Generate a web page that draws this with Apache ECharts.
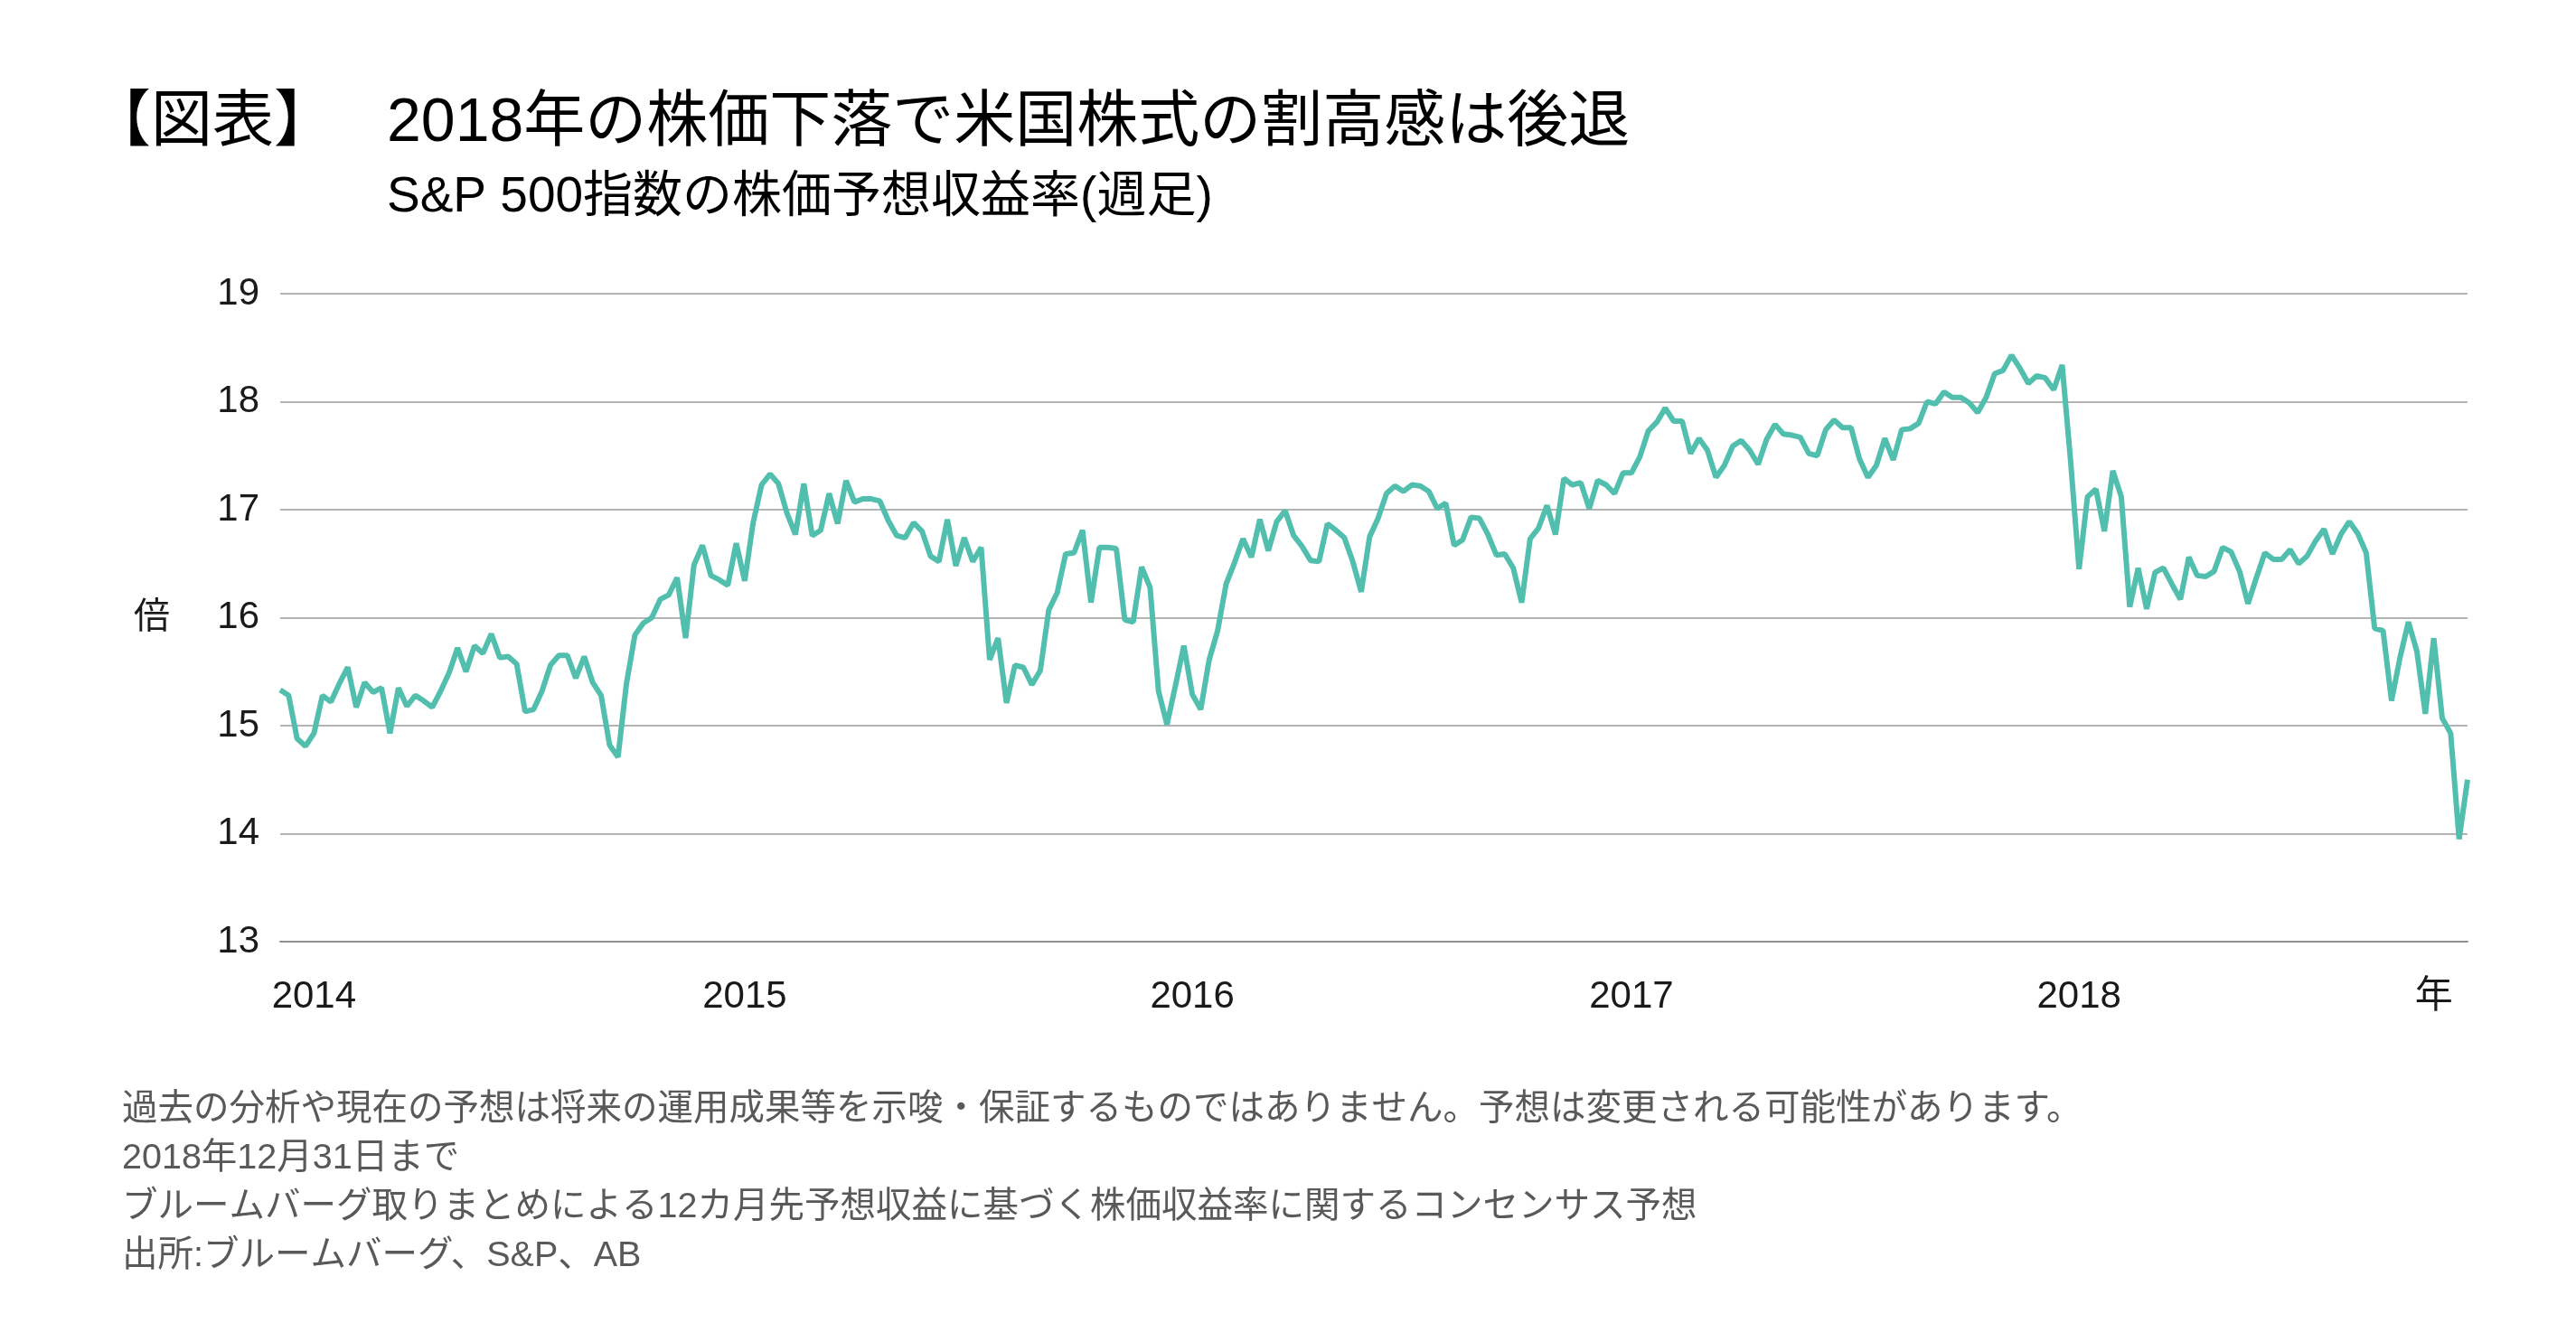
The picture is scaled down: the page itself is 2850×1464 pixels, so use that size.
<!DOCTYPE html>
<html>
<head>
<meta charset="utf-8">
<script src="https://cdn.jsdelivr.net/npm/echarts@6/dist/echarts.min.js"></script>
<style>
html,body{margin:0;padding:0;background:#fff;}
#chart{width:2850px;height:1464px;}
</style>
</head>
<body>
<div id="chart"></div>
<script>
// Weekly S&P 500 forward P/E
const peRatio = [
  15.33, 15.28, 14.88, 14.81, 14.93, 15.28, 15.22, 15.39, 15.54, 15.17, 15.40, 15.31, 15.35, 14.93, 15.35, 15.18, 15.28, 15.23, 15.17, 15.32, 15.49, 15.72, 15.50, 15.74, 15.67, 15.85, 15.63,
  15.64, 15.57, 15.13, 15.15, 15.32, 15.56, 15.65, 15.65, 15.44, 15.64, 15.40, 15.28, 14.82, 14.71, 15.39, 15.84, 15.95, 16.00, 16.17, 16.21, 16.37, 15.81, 16.49, 16.67, 16.39, 16.35, 16.30, 16.69, 16.34,
  16.88, 17.23, 17.33, 17.24, 16.97, 16.77, 17.24, 16.76, 16.81, 17.15, 16.87, 17.27, 17.07, 17.10, 17.10, 17.08, 16.90, 16.76, 16.74, 16.88, 16.80, 16.57, 16.52, 16.91, 16.48, 16.74, 16.52,
  16.65, 15.61, 15.81, 15.21, 15.56, 15.54, 15.38, 15.51, 16.07, 16.23, 16.59, 16.60, 16.81, 16.14, 16.65, 16.65, 16.64, 15.98, 15.96, 16.47, 16.28, 15.32, 15.01, 15.37, 15.74, 15.29, 15.15,
  15.61, 15.88, 16.31, 16.51, 16.73, 16.56, 16.91, 16.62, 16.89, 16.99, 16.76, 16.66, 16.53, 16.52, 16.87, 16.81, 16.74, 16.52, 16.24, 16.75, 16.92, 17.15, 17.22, 17.17, 17.23, 17.22,
  17.17, 17.01, 17.06, 16.67, 16.72, 16.93, 16.92, 16.77, 16.58, 16.59, 16.46, 16.14, 16.73, 16.83, 17.04, 16.77, 17.29, 17.23, 17.25, 17.01, 17.27, 17.23, 17.15, 17.34, 17.34, 17.49,
  17.73, 17.81, 17.94, 17.82, 17.82, 17.52, 17.66, 17.55, 17.30, 17.41, 17.59, 17.64, 17.55, 17.42, 17.65, 17.79, 17.70, 17.69, 17.67, 17.52, 17.50, 17.74, 17.83, 17.76, 17.76, 17.47,
  17.30, 17.41, 17.66, 17.46, 17.74, 17.75, 17.80, 18.00, 17.98, 18.09, 18.04, 18.04, 17.99, 17.90, 18.04, 18.26, 18.29, 18.43, 18.31, 18.17, 18.24, 18.22, 18.11, 18.34, 17.45, 16.45, 17.12,
  17.19, 16.80, 17.36, 17.12, 16.10, 16.46, 16.08, 16.42, 16.46, 16.31, 16.17, 16.56, 16.39, 16.38, 16.43, 16.65, 16.61, 16.43, 16.13, 16.37, 16.60, 16.54, 16.54, 16.63,
  16.50, 16.57, 16.71, 16.82, 16.59, 16.77, 16.89, 16.78, 16.60, 15.90, 15.88, 15.23, 15.63, 15.96, 15.69, 15.11, 15.81, 15.07, 14.93, 13.95, 14.50
];
// x-axis tick labels and the week index each is shown at
const xTickLabels = ['2014', '2015', '2016', '2017', '2018', '年'];
const xTickIndex = [4, 55, 108, 160, 213, 255];
const weekIndex = peRatio.map((_, i) => String(i));

const titleText = '2018年の株価下落で米国株式の割高感は後退';
const tagText = '【図表】';
const subtitleText = 'S&P 500指数の株価予想収益率(週足)';
const yUnit = '倍';
const notes = [
  '過去の分析や現在の予想は将来の運用成果等を示唆・保証するものではありません。予想は変更される可能性があります。',
  '2018年12月31日まで',
  'ブルームバーグ取りまとめによる12カ月先予想収益に基づく株価収益率に関するコンセンサス予想',
  '出所:ブルームバーグ、S&P、AB'
];

const FONT = '"Liberation Sans", "Noto Sans CJK JP", sans-serif';
const chart = echarts.init(document.getElementById('chart'), null, {renderer: 'canvas'});
chart.setOption({
  backgroundColor: '#ffffff',
  animation: false,
  textStyle: {fontFamily: FONT},
  title: [
    {text: tagText, left: 94, top: 98, textStyle: {fontSize: 68, fontWeight: 'normal', color: '#000', fontFamily: FONT}},
    {text: titleText, left: 423, top: 98, textStyle: {fontSize: 68, fontWeight: 'normal', color: '#000', fontFamily: FONT}},
    {text: subtitleText, left: 423, top: 186, textStyle: {fontSize: 55, fontWeight: 'normal', color: '#000', fontFamily: FONT}},
    {text: notes.join('\n'), left: 130, top: 1196, textStyle: {fontSize: 39.5, lineHeight: 54, fontWeight: 'normal', color: '#595959', fontFamily: FONT}}
  ],
  grid: {left: 310, right: 120, top: 325, bottom: 422, containLabel: false},
  xAxis: {
    type: 'category',
    data: weekIndex,
    boundaryGap: false,
    axisLine: {show: true, lineStyle: {color: '#8f8f8f', width: 2}},
    axisTick: {show: false},
    splitLine: {show: false},
    axisLabel: {
      interval: (i) => xTickIndex.includes(i),
      formatter: (v) => {
        const k = xTickIndex.indexOf(Number(v));
        return k >= 0 ? xTickLabels[k] : '';
      },
      margin: 40,
      fontSize: 42,
      color: '#1a1a1a',
      fontFamily: FONT
    }
  },
  yAxis: {
    type: 'value',
    min: 13,
    max: 19,
    interval: 1,
    name: yUnit,
    nameLocation: 'middle',
    nameRotate: 0,
    nameGap: 142,
    nameTextStyle: {fontSize: 40, color: '#1a1a1a', align: 'center', verticalAlign: 'middle', fontFamily: FONT},
    axisLine: {show: false},
    axisTick: {show: false},
    splitLine: {show: true, lineStyle: {color: '#b4b4b4', width: 2}},
    axisLabel: {margin: 23, fontSize: 42, color: '#1a1a1a', fontFamily: FONT}
  },
  series: [{
    type: 'line',
    data: peRatio,
    symbol: 'none',
    smooth: false,
    lineStyle: {color: '#52bfae', width: 6},
    itemStyle: {color: '#52bfae'}
  }]
});
</script>
</body>
</html>
